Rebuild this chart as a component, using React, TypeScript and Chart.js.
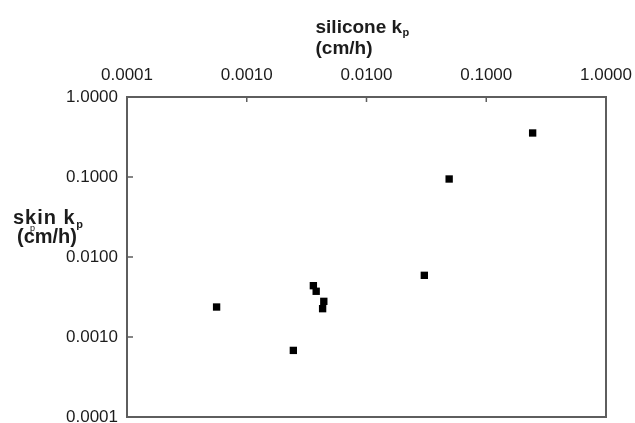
import React, { useEffect, useRef } from "react";
import { Chart, registerables } from "chart.js";

Chart.register(...registerables);

// silicone kp (cm/h) on x, skin kp (cm/h) on y
const siliconeKp = [0.00056, 0.00245, 0.0036, 0.0038, 0.0044, 0.0043, 0.0304, 0.049, 0.244];
const skinKp = [0.00237, 0.00068, 0.00438, 0.00373, 0.00279, 0.00226, 0.0059, 0.0944, 0.355];
const tickValues = [0.0001, 0.001, 0.01, 0.1, 1];

const xTitle = "silicone k";
const yTitle = "skin k";
const unitLabel = "(cm/h)";
const subP = "p";

const FONT = "'Liberation Sans', Arial, Helvetica, sans-serif";
const TEXT = "#1c1c1c";
const FRAME = "#5e5e5e";

const framePlugin = {
  id: "frameAndTitles",
  afterDraw(chart: any) {
    const { ctx, chartArea } = chart;
    const { left, right, top, bottom } = chartArea;
    const xs = chart.scales.x;
    const ys = chart.scales.y;
    ctx.save();
    ctx.strokeStyle = FRAME;
    ctx.lineWidth = 2;
    ctx.strokeRect(left, top, right - left, bottom - top);
    ctx.lineWidth = 1.5;
    ctx.beginPath();
    tickValues.forEach((v) => {
      const px = xs.getPixelForValue(v);
      if (px > left + 2 && px < right - 2) {
        ctx.moveTo(px, top);
        ctx.lineTo(px, top + 5);
      }
      const py = ys.getPixelForValue(v);
      if (py > top + 2 && py < bottom - 2) {
        ctx.moveTo(left, py);
        ctx.lineTo(left + 6, py);
      }
    });
    ctx.stroke();

    ctx.fillStyle = TEXT;
    ctx.textAlign = "left";
    ctx.textBaseline = "alphabetic";
    // x title
    const xt = (left + right) / 2 - 51;
    ctx.font = `bold 19px ${FONT}`;
    ctx.fillText(xTitle, xt, top - 64);
    const w1 = ctx.measureText(xTitle).width;
    ctx.fillText(unitLabel, xt, top - 43);
    ctx.font = `bold 11px ${FONT}`;
    ctx.fillText(subP, xt + w1 + 0.5, top - 61);

    // y title
    const yl = left - 114;
    ctx.font = `bold 20px ${FONT}`;
    (ctx as any).letterSpacing = "1px";
    ctx.fillText(yTitle, yl, top + 127);
    const w2 = ctx.measureText(yTitle).width;
    (ctx as any).letterSpacing = "0px";
    ctx.fillText(unitLabel, yl + 4, top + 146);
    ctx.font = `bold 11px ${FONT}`;
    ctx.fillText(subP, yl + w2 + 0.5, top + 131);
    ctx.font = `9px ${FONT}`;
    ctx.fillText(subP, yl + 17, top + 134);
    ctx.restore();
  },
};

export default function App() {
  const ref = useRef<HTMLCanvasElement | null>(null);
  useEffect(() => {
    const canvas = ref.current;
    if (!canvas) return;
    const fmt = (v: any) => Number(v).toFixed(4);
    const chart = new Chart(canvas, {
      type: "scatter",
      data: {
        datasets: [
          {
            data: siliconeKp.map((x, i) => ({ x, y: skinKp[i] })),
            pointStyle: "rect",
            pointRadius: 5.2,
            borderWidth: 0,
            backgroundColor: "#000",
            borderColor: "#000",
          },
        ],
      },
      options: {
        animation: false,
        responsive: false,
        devicePixelRatio: 1,
        layout: { padding: { left: 0, right: 28, top: 0, bottom: 23 } },
        plugins: { legend: { display: false }, tooltip: { enabled: false } },
        scales: {
          x: {
            type: "logarithmic",
            position: "top",
            min: 0.0001,
            max: 1,
            grid: { display: false, drawTicks: true, tickLength: 8 },
            border: { display: false },
            afterBuildTicks: (s: any) => {
              s.ticks = tickValues.map((value) => ({ value, major: true }));
            },
            afterFit: (s: any) => {
              s.height = 97;
            },
            ticks: {
              autoSkip: false,
              maxRotation: 0,
              padding: 3,
              color: TEXT,
              font: { family: FONT, size: 17 },
              callback: fmt,
            },
          },
          y: {
            type: "logarithmic",
            position: "left",
            min: 0.0001,
            max: 1,
            grid: { display: false, drawTicks: false },
            border: { display: false },
            afterBuildTicks: (s: any) => {
              s.ticks = tickValues.map((value) => ({ value, major: true }));
            },
            afterFit: (s: any) => {
              s.width = 127;
            },
            ticks: {
              autoSkip: false,
              padding: 9,
              color: TEXT,
              font: { family: FONT, size: 17 },
              callback: fmt,
            },
          },
        },
      },
      plugins: [framePlugin],
    });
    return () => chart.destroy();
  }, []);
  return (
    <div style={{ position: "fixed", left: 0, top: 0, width: 635, height: 440, background: "#fff" }}>
      <canvas ref={ref} width={635} height={440} style={{ width: 635, height: 440, display: "block" }} />
    </div>
  );
}
